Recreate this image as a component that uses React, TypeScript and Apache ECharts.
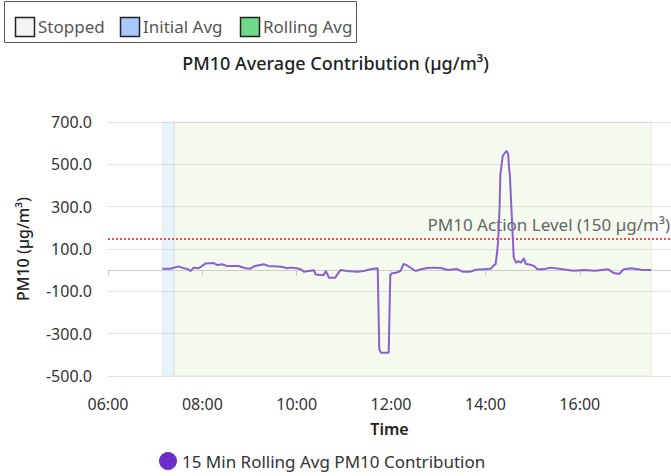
import React, { useEffect, useRef } from "react";
import * as echarts from "echarts";

const times = [
  "07:09", "07:19", "07:30", "07:34", "07:42", "07:45", "07:49", "07:55", "07:58", "08:04",
  "08:14", "08:19", "08:25", "08:31", "08:46", "08:55", "09:01", "09:07", "09:18", "09:24",
  "09:41", "09:48", "09:52", "10:00", "10:05", "10:09", "10:22", "10:24", "10:34", "10:37",
  "10:41", "10:49", "10:51", "10:56", "11:04", "11:17", "11:25", "11:34", "11:43", "11:45",
  "11:47", "11:57", "11:59", "12:03", "12:06", "12:12", "12:16", "12:21", "12:31", "12:38",
  "12:46", "12:54", "13:03", "13:12", "13:24", "13:31", "13:41", "13:48", "14:07", "14:11",
  "14:13", "14:15", "14:16", "14:18", "14:19", "14:22", "14:25", "14:27", "14:29", "14:30",
  "14:31", "14:33", "14:35", "14:36", "14:39", "14:42", "14:45", "14:49", "14:51", "14:58",
  "15:02", "15:06", "15:14", "15:23", "15:36", "15:52", "16:05", "16:20", "16:36", "16:43",
  "16:50", "16:56", "17:05", "17:18", "17:31",
];

const pm10Values = [
  7, 7, 18, 12, 4, -4, 12, 9, 15, 32,
  34, 24, 28, 20, 20, 9, 7, 20, 28, 20,
  16, 9, 12, 9, 4, -7, 0, -20, -24, -4,
  -36, -36, -23, 1, -4, -7, -4, 4, 9, -373,
  -390, -390, -20, -13, -12, -4, 30, 21, -4, 4,
  10, 12, 10, 1, 5, -7, -7, 2, 7, 24,
  28, 90, 130, 295, 453, 540, 555, 563, 548, 484,
  453, 295, 138, 59, 35, 43, 35, 56, 30, 24,
  20, 4, 4, 12, 5, -3, 1, -3, 4, -13,
  -18, 4, 9, 2, 1,
];

const xRange = ["06:00", "17:56"];
const yTicks = { min: -500, max: 700, interval: 200 };
const actionLevel = 150;
const initialAvgPeriod = ["07:09", "07:24"];
const rollingAvgPeriod = ["07:24", "17:31"];
const topLegend = [
  { name: "Stopped", fill: "#f3f3f3" },
  { name: "Initial Avg", fill: "#a9c9f9" },
  { name: "Rolling Avg", fill: "#6fd98a" },
];

const FONT = "'Noto Sans', sans-serif";

const toMin = (t: string) => {
  const [h, m] = t.split(":").map(Number);
  return h * 60 + m;
};
const fmtMin = (v: number) => {
  const h = Math.floor(v / 60);
  const m = Math.round(v - h * 60);
  return `${String(h).padStart(2, "0")}:${String(m).padStart(2, "0")}`;
};

export default function App() {
  const ref = useRef<HTMLDivElement>(null);
  useEffect(() => {
    document.body.style.margin = "0";
    const chart = echarts.init(ref.current!, null, { renderer: "svg" });
    const legendX = [15, 120, 240];
    const legendTextX = [38, 143, 263];
    const graphic: any[] = [
      {
        type: "rect",
        shape: { x: 4.5, y: 1.5, width: 352, height: 41 },
        style: { fill: "#fff", stroke: "#555", lineWidth: 1 },
      },
    ];
    topLegend.forEach((it, i) => {
      graphic.push({
        type: "rect",
        shape: { x: legendX[i] + 0.5, y: 17.5, width: 19, height: 19 },
        style: { fill: it.fill, stroke: "#222", lineWidth: 1.5 },
      });
      graphic.push({
        type: "text",
        x: legendTextX[i],
        y: 26,
        style: {
          text: it.name,
          fill: "#555",
          font: `17px ${FONT}`,
          verticalAlign: "middle",
          textAlign: "left",
        },
      });
    });

    const option: any = {
      animation: false,
      textStyle: { fontFamily: FONT },
      title: {
        text: "PM10 Average Contribution (µg/m³)",
        left: "center",
        top: 49,
        textStyle: { fontSize: 18, fontWeight: 500, color: "#222", fontFamily: FONT },
      },
      graphic,
      legend: {
        left: 159,
        top: 452,
        padding: 0,
        icon: "circle",
        itemWidth: 18,
        itemHeight: 18,
        textStyle: { fontSize: 17, color: "#333", fontFamily: FONT },
        data: [{ name: "15 Min Rolling Avg PM10 Contribution", itemStyle: { color: "#6a2ec9" } }],
      },
      grid: { left: 108, right: 0, top: 122, bottom: 100 },
      xAxis: {
        type: "value",
        min: toMin(xRange[0]),
        max: toMin(xRange[1]),
        interval: 120,
        name: "Time",
        nameLocation: "middle",
        nameGap: 45,
        nameTextStyle: { fontSize: 16, fontWeight: 600, color: "#222", fontFamily: FONT },
        axisLine: { show: true, lineStyle: { color: "#ccc" } },
        axisTick: { show: true, length: 6, lineStyle: { color: "#ccc" } },
        splitLine: { show: false },
        axisLabel: {
          formatter: (v: number) => fmtMin(v),
          fontSize: 16,
          color: "#333",
          margin: 20,
          showMaxLabel: false,
          fontFamily: FONT,
        },
      },
      yAxis: {
        type: "value",
        min: yTicks.min,
        max: yTicks.max,
        interval: yTicks.interval,
        name: "PM10 (µg/m³)",
        nameLocation: "middle",
        nameGap: 77,
        nameTextStyle: { fontSize: 16, fontWeight: 500, color: "#222", fontFamily: FONT },
        axisLine: { show: false },
        axisTick: { show: false },
        splitLine: { lineStyle: { color: "#e2e2e2", width: 1 } },
        axisLabel: {
          formatter: (v: number) => v.toFixed(1),
          fontSize: 16,
          color: "#333",
          margin: 16,
          fontFamily: FONT,
        },
      },
      series: [
        {
          name: "15 Min Rolling Avg PM10 Contribution",
          type: "line",
          data: times.map((t, i) => [toMin(t), pm10Values[i]]),
          showSymbol: false,
          symbol: "circle",
          itemStyle: { color: "#6a2ec9" },
          lineStyle: { color: "#8a60d0", width: 2 },
          z: 5,
          markArea: {
            silent: true,
            data: [
              [
                {
                  xAxis: toMin(initialAvgPeriod[0]),
                  itemStyle: {
                    color: "rgba(135,200,235,0.2)",
                    borderColor: "#d8d8d8",
                    borderWidth: 1,
                    borderType: "dotted",
                  },
                },
                { xAxis: toMin(initialAvgPeriod[1]) },
              ],
              [
                {
                  xAxis: toMin(rollingAvgPeriod[0]),
                  itemStyle: {
                    color: "rgba(180,220,140,0.15)",
                    borderColor: "#d8d8d8",
                    borderWidth: 1,
                    borderType: "dotted",
                  },
                },
                { xAxis: toMin(rollingAvgPeriod[1]) },
              ],
            ],
          },
          markLine: {
            silent: true,
            symbol: "none",
            lineStyle: { color: "#e31a1c", type: [2, 2], width: 1.5 },
            label: {
              show: true,
              position: "insideEndTop",
              formatter: "PM10 Action Level (150 µg/m³)",
              color: "#666",
              fontSize: 17,
              distance: [1, 5],
              fontFamily: FONT,
            },
            data: [{ yAxis: actionLevel }],
          },
        },
      ],
    };
    chart.setOption(option);
    return () => chart.dispose();
  }, []);
  return <div ref={ref} style={{ width: 671, height: 476 }} />;
}
